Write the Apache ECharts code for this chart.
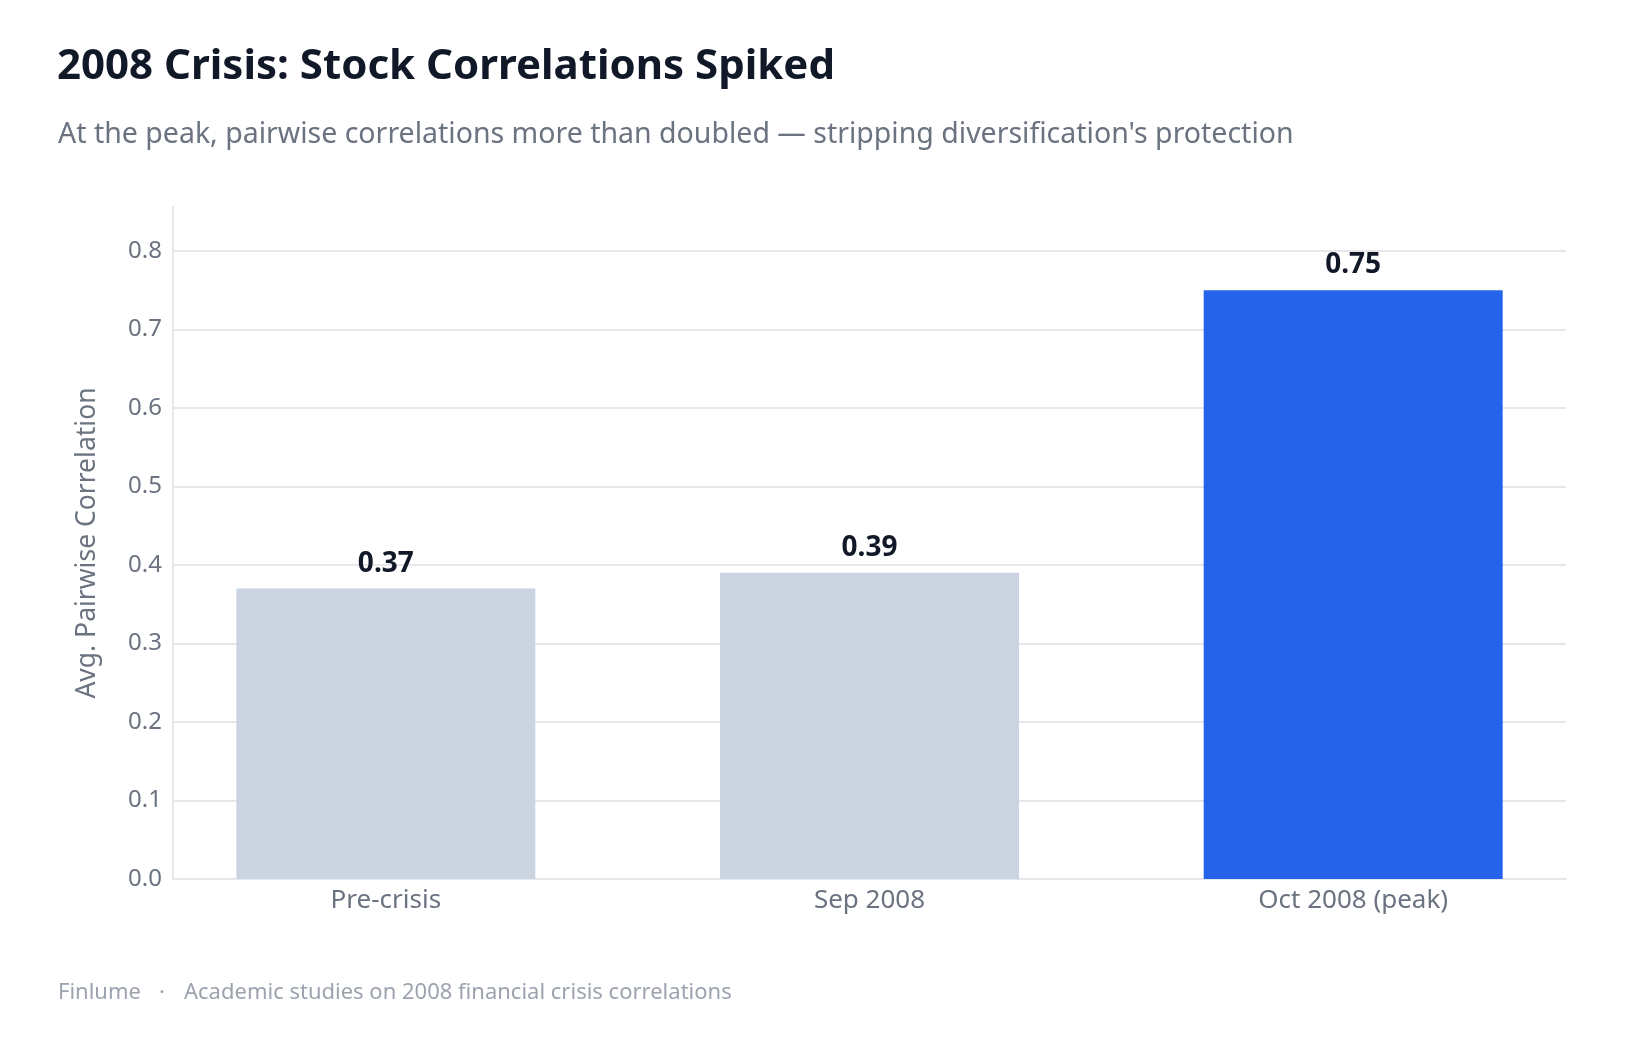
<!DOCTYPE html>
<html>
<head>
<meta charset="utf-8">
<script src="https://cdn.jsdelivr.net/npm/echarts@6/dist/echarts.min.js"></script>
<style>
html,body{margin:0;padding:0;background:#ffffff;}
#chart{width:1639px;height:1040px;}
</style>
</head>
<body>
<div id="chart"></div>
<script>
const categories = ["Pre-crisis", "Sep 2008", "Oct 2008 (peak)"];
const values = [0.37, 0.39, 0.75];
const barColors = ["#cbd5e1", "#cbd5e1", "#2563eb"];
const yTicks = [0, 0.1, 0.2, 0.3, 0.4, 0.5, 0.6, 0.7, 0.8];

const FONT = "'Noto Sans', 'Open Sans', sans-serif";
const chart = echarts.init(document.getElementById('chart'), null, {renderer: 'canvas'});

const seriesData = values.map((v, i) => ({
  value: [i, v],
  itemStyle: {color: barColors[i]}
}));

chart.setOption({
  backgroundColor: '#ffffff',
  animation: false,
  textStyle: {fontFamily: FONT},
  title: [
    {
      text: '2008 Crisis: Stock Correlations Spiked',
      left: 52, top: 41,
      textStyle: {fontFamily: FONT, fontSize: 42, fontWeight: 'bold', color: '#111827'}
    },
    {
      text: "At the peak, pairwise correlations more than doubled \u2014 stripping diversification's protection",
      left: 53, top: 115,
      textStyle: {fontFamily: FONT, fontSize: 28.5, fontWeight: 'normal', color: '#6b7280'}
    },
    {
      text: 'Finlume',
      left: 53, top: 977,
      textStyle: {fontFamily: FONT, fontSize: 22, fontWeight: 'normal', color: '#9ca3af'}
    },
    {
      text: '\u00b7',
      left: 154, top: 977,
      textStyle: {fontFamily: FONT, fontSize: 22, fontWeight: 'normal', color: '#9ca3af'}
    },
    {
      text: 'Academic studies on 2008 financial crisis correlations',
      left: 179, top: 977,
      textStyle: {fontFamily: FONT, fontSize: 22, fontWeight: 'normal', color: '#9ca3af'}
    }
  ],
  grid: {left: 173, right: 73, top: 207, bottom: 161, containLabel: false},
  xAxis: {
    type: 'value',
    min: -0.44,
    max: 2.44,
    axisLine: {show: true, onZero: false, lineStyle: {color: '#e5e7eb', width: 2}},
    axisTick: {show: false},
    splitLine: {show: false},
    axisLabel: {
      customValues: [0, 1, 2],
      formatter: (v) => categories[Math.round(v)] || '',
      fontFamily: FONT, fontSize: 26, color: '#6b7280', margin: 9
    }
  },
  yAxis: {
    type: 'value',
    min: 0,
    max: 0.856,
    interval: 0.1,
    name: 'Avg. Pairwise Correlation',
    nameLocation: 'middle',
    nameGap: 72,
    nameTextStyle: {fontFamily: FONT, fontSize: 26.5, color: '#6b7280'},
    axisLine: {show: true, onZero: false, lineStyle: {color: '#e5e7eb', width: 2}},
    axisTick: {show: false},
    splitLine: {show: true, showMaxLine: false, lineStyle: {color: '#e5e7eb', width: 2}},
    axisLabel: {
      customValues: yTicks,
      formatter: (v) => v.toFixed(1),
      fontFamily: FONT, fontSize: 24, color: '#6b7280', margin: 11
    }
  },
  series: [{
    type: 'bar',
    data: seriesData,
    barWidth: 299,
    label: {
      show: true,
      position: 'top',
      distance: 11,
      formatter: (p) => p.value[1].toFixed(2),
      fontFamily: FONT, fontSize: 28, fontWeight: 'bold', color: '#111827'
    }
  }]
});
</script>
</body>
</html>
